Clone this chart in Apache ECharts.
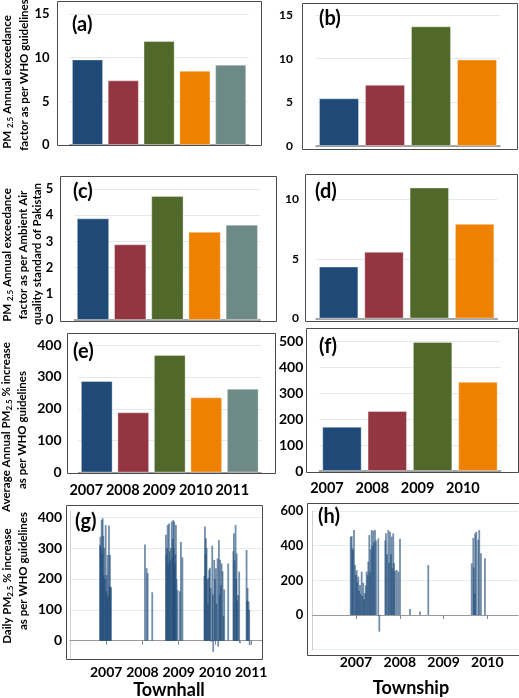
<!DOCTYPE html>
<html><head><meta charset="utf-8">
<script src="https://cdn.jsdelivr.net/npm/echarts@6/dist/echarts.min.js"></script>
<style>html,body{margin:0;padding:0;background:#fff}#c{width:519px;height:698px}</style>
</head><body><div id="c"></div>
<script>
// ---------- data ----------
const townhallYears = ['2007','2008','2009','2010','2011'];
const townshipYears = ['2007','2008','2009','2010'];
const whoFactorTownhall = [9.8, 7.4, 11.9, 8.5, 9.2];
const whoFactorTownship = [5.46, 7.0, 13.7, 9.9];
const pakFactorTownhall = [3.88, 2.89, 4.73, 3.37, 3.64];
const pakFactorTownship = [4.35, 5.58, 10.96, 7.92];
const pctIncreaseTownhall = [287, 189, 369, 236, 263];
const pctIncreaseTownship = [171, 232, 499, 345];
const dailyTicksTownhall = [0, 100, 200, 300, 400];
const dailyTownhall = [
 [2006.828,310],[2006.841,337],[2006.855,300],[2006.874,391],[2006.888,280],[2006.902,397],[2006.919,340],[2006.932,213],[2006.946,300],[2006.966,200],[2006.985,375],[2006.999,160],[2007.012,213],[2007.026,138],[2007.040,278],[2007.057,150],[2007.076,373],[2007.090,175],[2007.103,278],[2007.117,170],[2007.131,175],
 [2008.069,312],[2008.116,235],[2008.143,219],[2008.270,157],
 [2008.648,343],[2008.662,280],[2008.681,300],[2008.695,375],[2008.712,250],[2008.731,380],[2008.745,290],[2008.764,260],[2008.781,300],[2008.806,386],[2008.822,270],[2008.836,330],[2008.850,391],[2008.863,300],[2008.877,386],[2008.891,250],[2008.908,280],[2008.924,375],[2008.940,200],[2008.971,164],[2009.034,160],[2009.062,320],[2009.103,270],
 [2009.710,210],[2009.724,370],[2009.738,280],[2009.752,332],[2009.771,300],[2009.788,200],[2009.807,120],[2009.826,203],[2009.843,230],[2009.862,236],[2009.881,170],[2009.898,-3],[2009.926,308],[2009.945,150],[2009.953,-36],[2009.981,262],[2010.000,200],[2010.028,235],[2010.047,120],[2010.074,267],[2010.091,-19],[2010.110,326],[2010.129,150],[2010.146,262],[2010.166,180],[2010.185,250],[2010.212,225],[2010.234,80],[2010.257,166],[2010.367,250],
 [2010.510,290],[2010.524,348],[2010.543,260],[2010.571,375],[2010.588,200],[2010.599,283],[2010.615,130],[2010.643,148],[2010.670,224],[2010.690,-8],[2010.874,294],[2010.891,130],[2010.902,171],[2010.930,127],[2010.946,100],[2010.960,-14]
];
const dailyTownship = [
 [2006.879,452],[2006.902,455],[2006.916,385],[2006.932,375],[2006.954,490],[2006.977,288],[2007.000,231],[2007.016,259],[2007.030,192],[2007.053,221],[2007.068,140],[2007.091,173],[2007.107,120],[2007.130,250],[2007.148,110],[2007.167,186],[2007.183,90],[2007.205,125],[2007.224,170],[2007.244,250],[2007.263,230],[2007.281,308],[2007.304,461],[2007.320,250],[2007.338,380],[2007.358,490],[2007.377,400],[2007.395,485],[2007.411,420],[2007.434,490],[2007.457,430],[2007.509,442],[2007.532,-96],
 [2007.669,430],[2007.685,471],[2007.708,350],[2007.737,490],[2007.753,300],[2007.776,481],[2007.799,350],[2007.815,452],[2007.833,270],[2007.852,471],[2007.868,300],[2007.890,255],[2007.929,260],[2007.966,250],[2008.005,440],
 [2008.233,35],[2008.461,21],[2008.651,288],
 [2009.642,298],[2009.679,445],[2009.690,275],[2009.710,125],[2009.721,470],[2009.747,480],[2009.793,434],[2009.815,490],[2009.854,356],[2009.945,327]
];

// ---------- styles ----------
const yearColors = ['#1f4a77','#943641','#50692a','#ef8100','#6e8a87'];
const FONT = 'Lato';
const chart = echarts.init(document.getElementById('c'), null, {renderer: 'canvas'});

const barPanels = [
 {cats: townhallYears, data: whoFactorTownhall, grid: {left: 69.6, top: 14, width: 179, height: 131}, min: 0, max: 15, interval: 5, fs: 13, margin: 20},
 {cats: townshipYears, data: whoFactorTownship, grid: {left: 316, top: 15, width: 184, height: 131}, min: 0, max: 15, interval: 5, fs: 12, margin: 23},
 {cats: townhallYears, data: pakFactorTownhall, grid: {left: 74.4, top: 189, width: 186, height: 131}, min: 0, max: 5, interval: 1, fs: 13, margin: 21},
 {cats: townshipYears, data: pakFactorTownship, grid: {left: 316, top: 175, width: 181.3, height: 143.6}, min: 0, max: 12, interval: 5, fs: 12, margin: 17},
 {cats: townhallYears, data: pctIncreaseTownhall, grid: {left: 78.5, top: 345, width: 182.5, height: 127.5}, min: 0, max: 400, interval: 100, fs: 14, margin: 17, xl: {pad: 21}},
 {cats: townshipYears, data: pctIncreaseTownship, grid: {left: 319.3, top: 341.7, width: 181.3, height: 129.3}, min: 0, max: 500, interval: 100, fs: 14, margin: 16, xl: {pad: 30}}
];

const grids = [], xAxes = [], yAxes = [], series = [];
barPanels.forEach((p, i) => {
  grids.push(Object.assign({containLabel: false}, p.grid));
  xAxes.push({
    type: 'category', gridIndex: i, data: p.cats,
    axisLine: {show: true, lineStyle: {color: '#8a8a8a', width: 1.5}},
    axisTick: {show: false},
    axisLabel: p.xl ? {show: true, interval: 0, hideOverlap: false, color: '#000', fontFamily: FONT, fontWeight: 'bold', fontSize: 14.5, margin: 10, padding: [0, p.xl.pad, 0, 0]} : {show: false}
  });
  yAxes.push({
    type: 'value', gridIndex: i, min: p.min, max: p.max, interval: p.interval,
    axisLine: {show: false}, axisTick: {show: false},
    axisLabel: {color: '#000', fontFamily: FONT, fontWeight: 'bold', fontSize: p.fs, margin: p.margin, showMaxLabel: p.max % p.interval === 0},
    splitLine: {show: true, showMaxLine: p.max % p.interval === 0, lineStyle: {color: '#e2eaea', width: 1}}
  });
  series.push({
    type: 'bar', xAxisIndex: i, yAxisIndex: i, barCategoryGap: '13%',
    data: p.data.map((v, k) => ({value: v, itemStyle: {color: yearColors[k]}})),
    itemStyle: {borderColor: 'rgba(255,255,255,0.35)', borderWidth: 1},
    animation: false
  });
});

// daily panels
const dailyPanels = [
 {data: dailyTownhall, grid: {left: 70, top: 511.1, width: 192, height: 148.1}, xmin: 2006, xmax: 2011.3, ymin: -60, ymax: 420, yfs: 14, ymargin: 8, custom: dailyTicksTownhall},
 {data: dailyTownship, grid: {left: 312.2, top: 511, width: 205.8, height: 138.7}, xmin: 2006, xmax: 2010.7, ymin: -200, ymax: 600, yinterval: 200, yfs: 13, ymargin: 9}
];
dailyPanels.forEach((p, j) => {
  const i = barPanels.length + j;
  grids.push(Object.assign({containLabel: false}, p.grid));
  xAxes.push({
    type: 'value', gridIndex: i, min: p.xmin, max: p.xmax, interval: 1,
    axisLine: {show: true, lineStyle: {color: '#9a9a9a', width: 1}},
    axisTick: {show: true, length: 4, lineStyle: {color: '#888'}},
    splitLine: {show: false},
    axisLabel: {color: '#000', fontFamily: FONT, fontWeight: 'bold', fontSize: 14, margin: 6, showMinLabel: false, showMaxLabel: false,
      formatter: v => String(Math.round(v))}
  });
  const y = {
    type: 'value', gridIndex: i, min: p.ymin, max: p.ymax,
    axisLine: {show: true, lineStyle: {color: '#cfcfcf'}}, axisTick: {show: false},
    axisLabel: {color: '#000', fontFamily: FONT, fontWeight: 'bold', fontSize: p.yfs, margin: p.ymargin},
    splitLine: {show: true, lineStyle: {color: '#e2eef0'}}
  };
  if (p.custom) {
    y.axisLabel.customValues = p.custom;
    y.axisTick.customValues = p.custom;
  } else {
    y.interval = p.yinterval;
    y.axisLabel.showMinLabel = false;
  }
  yAxes.push(y);
  series.push({
    type: 'bar', xAxisIndex: i, yAxisIndex: i, barWidth: 1.8,
    data: p.data,
    itemStyle: {color: '#1f4a78', opacity: 0.62},
    animation: false
  });
});

// ---------- decoration ----------
const frames = [
 [57, 1, 204, 144], [302, 3, 215, 146],
 [60, 176, 216, 145], [305, 174, 212, 147],
 [67, 333, 208, 140], [306, 328, 212, 144],
 [66, 505, 196, 154], [307, 503, 212, 152]
];
const graphic = frames.map(f => ({
  type: 'rect', shape: {x: f[0] + 0.5, y: f[1] + 0.5, width: f[2], height: f[3]},
  style: {fill: 'none', stroke: '#4a4a4a', lineWidth: 1}, z: 100, silent: true
}));
const tags = [['(a)', 72, 25], ['(b)', 319, 19], ['(c)', 73, 192], ['(d)', 315, 192], ['(e)', 73, 352], ['(f)', 319, 347], ['(g)', 75, 522], ['(h)', 318, 517]];
tags.forEach(t => graphic.push({type: 'text', x: t[1], y: t[2], z: 101,
  style: {text: t[0], fontFamily: FONT, fontWeight: 'bold', fontSize: 20, fill: '#000', align: 'left', verticalAlign: 'middle'}}));

const rich = {
  a: {fontFamily: FONT, fontWeight: 'bold', fontSize: 11.5, fill: '#000', lineHeight: 14},
  s: {fontFamily: FONT, fontWeight: 'bold', fontSize: 8, fill: '#000', lineHeight: 14, verticalAlign: 'bottom'}
};
const titles = [
 ['{a|PM }{s|2.5}{a| Annual exceedance}', 7.5, 82],
 ['{a|factor as per WHO guidelines}', 24, 75],
 ['{a|PM }{s|2.5}{a| Annual exceedance}', 7.5, 255],
 ['{a|factor as per Ambient Air}', 23, 255],
 ['{a|quality standard of Pakistan}', 37.5, 254],
 ['{a|Average Annual PM}{s|2.5}{a| % increase}', 6, 427],
 ['{a|as per WHO guidelines}', 22, 430],
 ['{a|Daily PM}{s|2.5}{a| % increase}', 7.5, 586],
 ['{a|as per WHO guidelines}', 23.5, 571]
];
titles.forEach(t => graphic.push({type: 'text', x: t[1], y: t[2], rotation: Math.PI / 2, z: 101,
  style: {text: t[0], rich: rich, align: 'center', verticalAlign: 'middle'}}));
graphic.push({type: 'text', x: 169, y: 690, z: 101, style: {text: 'Townhall', fontFamily: FONT, fontWeight: 'bold', fontSize: 18, fill: '#000', align: 'center', verticalAlign: 'middle'}});
graphic.push({type: 'text', x: 411, y: 688, z: 101, style: {text: 'Township', fontFamily: FONT, fontWeight: 'bold', fontSize: 18, fill: '#000', align: 'center', verticalAlign: 'middle'}});

chart.setOption({
  animation: false,
  backgroundColor: '#fff',
  grid: grids, xAxis: xAxes, yAxis: yAxes, series: series, graphic: graphic
});
</script></body></html>
